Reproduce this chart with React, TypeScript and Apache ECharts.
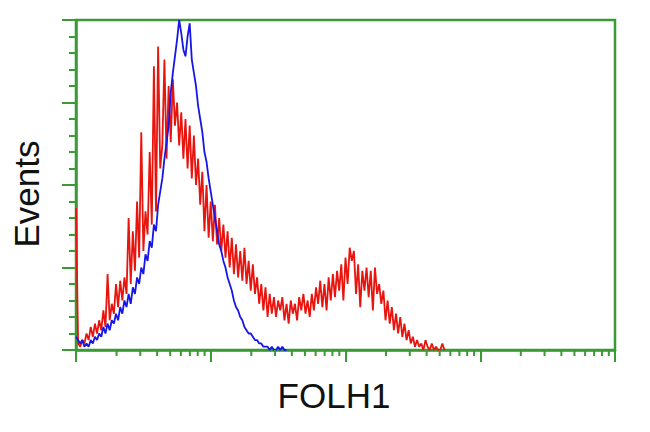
import React, { useEffect, useRef } from "react";
import * as echarts from "echarts";

// Histogram channels: 64 channels per log decade, 4 decades (0..256)
const CHANNELS_PER_DECADE = 64;
const DECADES = 4;

const RED = [
  43, 2, 1, 3, 2, 5, 3, 7, 4, 8,
  5, 9, 6, 12, 7, 23, 9, 14, 11, 20,
  13, 21, 15, 22, 17, 40, 20, 36, 24, 45,
  28, 66, 30, 42, 35, 60, 38, 86, 42, 92,
  55, 62, 88, 58, 80, 63, 82, 68, 75, 62,
  72, 58, 70, 55, 68, 52, 65, 50, 58, 44,
  54, 36, 50, 34, 45, 33, 44, 32, 40, 30,
  38, 28, 36, 25, 34, 23, 32, 22, 30, 21,
  31, 20, 27, 18, 26, 17, 22, 14, 20, 12,
  19, 10, 17, 11, 16, 10, 15, 12, 16, 9,
  14, 8, 15, 11, 14, 9, 16, 12, 17, 11,
  15, 10, 17, 12, 19, 14, 21, 13, 20, 12,
  22, 15, 23, 16, 24, 18, 26, 15, 28, 20,
  31, 27, 30, 17, 26, 13, 24, 18, 25, 16,
  24, 12, 25, 17, 20, 14, 18, 9, 15, 8,
  13, 6, 11, 5, 10, 4, 8, 3, 6, 2,
  4, 1, 3, 1, 2, 0, 3, 1, 0, 2,
  0, 1, 0, 0, 2, 0,
];

const BLUE = [
  4, 3, 2, 3, 1, 2, 1, 3, 2, 4,
  3, 5, 4, 7, 5, 8, 6, 9, 8, 11,
  9, 13, 11, 15, 13, 17, 14, 19, 17, 22,
  20, 25, 23, 29, 27, 33, 31, 38, 36, 44,
  48, 52, 58, 63, 68, 78, 84, 89, 94, 100,
  96, 91, 89, 95, 99, 88, 84, 80, 74, 70,
  66, 60, 57, 52, 48, 44, 40, 36, 32, 30,
  27, 25, 22, 20, 18, 15, 13, 12, 10, 9,
  7, 6, 5, 5, 4, 3, 3, 2, 2, 1,
  1, 1, 0, 1, 0, 0, 1, 0, 1, 0, 0,
];

const MINOR_MULTIPLIERS = [2, 3, 4, 5, 6, 7, 8, 9];
const DECADE_STARTS = [0, 1, 2, 3];

const X_TITLE = "FOLH1";
const Y_TITLE = "Events";

const GREEN = "#3a9a33";

export default function App() {
  const ref = useRef<HTMLDivElement>(null);

  useEffect(() => {
    if (!ref.current) return;
    const chart = echarts.init(ref.current, null, { renderer: "svg" });

    const minorTicks: number[][] = [];
    DECADE_STARTS.forEach((d) => {
      MINOR_MULTIPLIERS.forEach((k) => {
        minorTicks.push([CHANNELS_PER_DECADE * (d + Math.log10(k)), 0]);
      });
    });

    chart.setOption({
      animation: false,
      backgroundColor: "#ffffff",
      grid: {
        left: 76,
        top: 20,
        right: 35,
        bottom: 82,
        show: true,
        borderColor: GREEN,
        borderWidth: 2.5,
        backgroundColor: "transparent",
      },
      xAxis: {
        type: "value",
        min: 0,
        max: CHANNELS_PER_DECADE * DECADES,
        interval: CHANNELS_PER_DECADE,
        axisLine: { show: true, lineStyle: { color: GREEN, width: 2.5 } },
        axisTick: { show: true, length: 12, lineStyle: { color: GREEN, width: 2 } },
        axisLabel: { show: false },
        splitLine: { show: false },
      },
      yAxis: {
        type: "value",
        min: 0,
        max: 100,
        interval: 25,
        axisLine: { show: true, lineStyle: { color: GREEN, width: 2.5 } },
        axisTick: { show: true, length: 14, lineStyle: { color: GREEN, width: 2 } },
        minorTick: { show: true, splitNumber: 5, length: 7, lineStyle: { color: GREEN, width: 2 } },
        axisLabel: { show: false },
        splitLine: { show: false },
        minorSplitLine: { show: false },
      },
      graphic: [
        {
          type: "text",
          x: 334,
          y: 395,
          style: {
            text: X_TITLE,
            fontSize: 35,
            fontFamily: "Liberation Sans, Arial, sans-serif",
            fill: "#111111",
            align: "center",
            verticalAlign: "middle",
          },
        },
        {
          type: "text",
          x: 26,
          y: 194,
          rotation: Math.PI / 2,
          style: {
            text: Y_TITLE,
            fontSize: 35,
            fontFamily: "Liberation Sans, Arial, sans-serif",
            fill: "#111111",
            align: "center",
            verticalAlign: "middle",
          },
        },
      ],
      series: [
        {
          type: "line",
          data: RED.map((v, i) => [i, v]),
          showSymbol: false,
          lineStyle: { color: "#e8140e", width: 1.8 },
          itemStyle: { color: "#e8140e" },
          z: 2,
        },
        {
          type: "line",
          data: BLUE.map((v, i) => [i, v]),
          showSymbol: false,
          lineStyle: { color: "#1616e8", width: 1.8 },
          itemStyle: { color: "#1616e8" },
          z: 3,
        },
        {
          type: "custom",
          clip: false,
          silent: true,
          data: minorTicks,
          renderItem: (params: any, api: any) => {
            const p = api.coord([api.value(0), 0]);
            return {
              type: "line",
              shape: { x1: p[0], y1: p[1], x2: p[0], y2: p[1] + 6 },
              style: { stroke: GREEN, lineWidth: 2 },
            };
          },
          z: 4,
        },
      ],
    });

    return () => chart.dispose();
  }, []);

  return (
    <div
      ref={ref}
      style={{ position: "fixed", left: 0, top: 0, width: 650, height: 432 }}
    />
  );
}
